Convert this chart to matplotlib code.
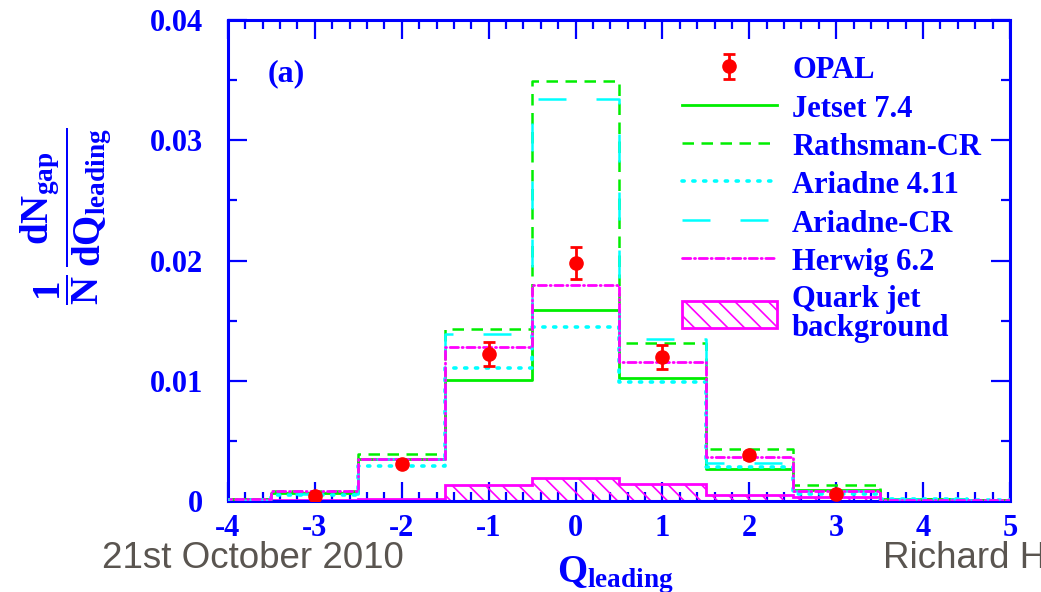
import numpy as np
import matplotlib
matplotlib.use('Agg')
import matplotlib.pyplot as plt
from matplotlib.legend_handler import HandlerErrorbar
from matplotlib.ticker import MultipleLocator, FixedLocator, FixedFormatter

plt.rcParams['font.family'] = ['Liberation Serif', 'DejaVu Serif']
plt.rcParams['font.weight'] = 'bold'
plt.rcParams['mathtext.fontset'] = 'custom'
plt.rcParams['mathtext.rm'] = 'Liberation Serif:bold'
plt.rcParams['mathtext.it'] = 'Liberation Serif:bold'
plt.rcParams['mathtext.bf'] = 'Liberation Serif:bold'
plt.rcParams['hatch.linewidth'] = 1.2
plt.rcParams['axes.unicode_minus'] = False

BLUE = '#0000ff'
GREEN = '#00ee00'
CYAN = '#00ffff'
MAGENTA = '#ff00ff'
RED = '#ff0000'

# bin centres (Q_leading), width 1
q = np.array([-4, -3, -2, -1, 0, 1, 2, 3, 4, 5])
jetset = [0.0002, 0.0007, 0.0035, 0.0101, 0.0159, 0.0102, 0.0027, 0.0009, 0.0002, 0.0001]
rathsman = [0.0002, 0.0008, 0.0039, 0.0143, 0.0349, 0.0131, 0.0043, 0.0013, 0.0002, 0.0001]
ariadne = [0.0001, 0.0005, 0.0029, 0.0111, 0.0145, 0.0099, 0.0028, 0.0006, 0.0002, 0.0001]
ariadne_cr = [0.0001, 0.0006, 0.0035, 0.0139, 0.0334, 0.0135, 0.0032, 0.0008, 0.0002, 0.0001]
herwig = [0.0002, 0.0008, 0.0035, 0.0128, 0.0180, 0.0116, 0.0037, 0.0008, 0.0001, 0.0001]
quark_bg = [0.0001, 0.0001, 0.0002, 0.0013, 0.0019, 0.0014, 0.0005, 0.0003, 0.0001, 0.0001]

opal_x = [-3, -2, -1, 0, 1, 2, 3]
opal_y = [0.0004, 0.0031, 0.0122, 0.0198, 0.0120, 0.0038, 0.0006]
opal_err = [0.0001, 0.0002, 0.0010, 0.0013, 0.0010, 0.0003, 0.0001]

x_ticks = [-4, -3, -2, -1, 0, 1, 2, 3, 4, 5]
x_labels = ['-4', '-3', '-2', '-1', '0', '1', '2', '3', '4', '5']
y_ticks = [0, 0.01, 0.02, 0.03, 0.04]
y_labels = ['0', '0.01', '0.02', '0.03', '0.04']

edges = np.append(q - 0.5, q[-1] + 0.5)

fig = plt.figure(figsize=(10.41, 5.92), dpi=100)
ax = fig.add_axes([0.219, 0.1537, 0.7512, 0.8125])

def steps(vals):
    return np.append(vals, vals[-1])

bg = ax.stairs(quark_bg, edges, fill=True, facecolor='none', edgecolor=MAGENTA,
               hatch='\\\\', lw=2, label='Quark jet\nbackground', zorder=2)

l_jet, = ax.step(edges, steps(jetset), where='post', color=GREEN, lw=2,
                 label='Jetset 7.4', zorder=3)
l_rat, = ax.step(edges, steps(rathsman), where='post', color=GREEN, lw=1.8,
                 ls=(0, (4.6, 3.0)), label='Rathsman-CR', zorder=3)
l_ari, = ax.step(edges, steps(ariadne), where='post', color=CYAN, lw=2.6,
                 ls=(0, (0.6, 2.4)), dash_capstyle='round', label='Ariadne 4.11', zorder=3)
l_acr, = ax.step(edges, steps(ariadne_cr), where='post', color=CYAN, lw=1.8,
                 ls=(0, (11.2, 12)), label='Ariadne-CR', zorder=3)
l_her, = ax.step(edges, steps(herwig), where='post', color=MAGENTA, lw=2,
                 ls=(0, (3.0, 1.3, 0.4, 1.3)), dash_capstyle='round',
                 label='Herwig 6.2', zorder=4)

opal = ax.errorbar(opal_x, opal_y, yerr=opal_err, fmt='o', color=RED, ms=9.5,
                   elinewidth=2, capsize=4.3, capthick=2, label='OPAL', zorder=6)

ax.set_xlim(-4, 5)
ax.set_ylim(0, 0.04)

ax.xaxis.set_major_locator(FixedLocator(x_ticks))
ax.xaxis.set_major_formatter(FixedFormatter(x_labels))
ax.xaxis.set_minor_locator(MultipleLocator(0.2))
ax.yaxis.set_major_locator(FixedLocator(y_ticks))
ax.yaxis.set_major_formatter(FixedFormatter(y_labels))
ax.yaxis.set_minor_locator(MultipleLocator(0.005))

ax.tick_params(which='both', direction='in', top=True, right=True, color=BLUE,
               width=1.6, labelcolor=BLUE, labelsize=22)
ax.tick_params(which='major', length=13.5)
ax.tick_params(which='minor', length=6.5)
ax.tick_params(axis='x', pad=9)
ax.tick_params(axis='y', pad=18)
for s in ax.spines.values():
    s.set_color(BLUE)
    s.set_linewidth(2.2)

ax.text(0.051, 0.873, '(a)', transform=ax.transAxes, color=BLUE, fontsize=23,
        va='baseline', ha='left')

leg = ax.legend(handles=[opal, l_jet, l_rat, l_ari, l_acr, l_her, bg],
                loc='upper left', bbox_to_anchor=(0.5806, 0.928),
                frameon=False, fontsize=22, labelcolor=BLUE, borderpad=0,
                borderaxespad=0, handlelength=3.1, handletextpad=0.5,
                handleheight=0.95, labelspacing=0.25,
                handler_map={type(opal): HandlerErrorbar(yerr_size=0.4)})
for t in leg.get_texts():
    t.set_linespacing(1.03)

fig.text(66 / 1041, 1 - 216 / 592,
         r'$\dfrac{1}{N}\,\dfrac{dN_{gap}}{dQ_{leading}}$',
         rotation=90, ha='center', va='center', color=BLUE, fontsize=28)
fig.text(557 / 1041, 1 - 582 / 592, r'$Q_{leading}$', ha='left', va='baseline',
         color=BLUE, fontsize=28)

fig.text(102 / 1041, 1 - 567.5 / 592, '21st October 2010', ha='left', va='baseline',
         color='#5a5550', fontsize=26.5, family='Liberation Sans', fontweight='normal')
fig.text(883 / 1041, 1 - 567.5 / 592, 'Richard H', ha='left', va='baseline',
         color='#5a5550', fontsize=26.5, family='Liberation Sans', fontweight='normal')

fig.savefig('out.png', dpi=100)
